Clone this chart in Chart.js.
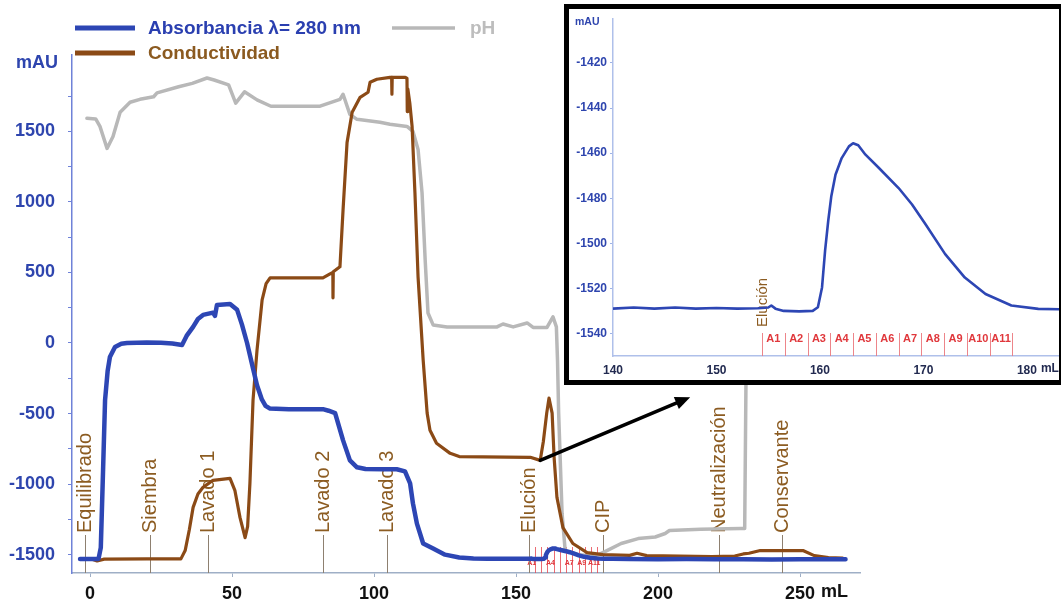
<!DOCTYPE html>
<html>
<head>
<meta charset="utf-8">
<script src="https://cdn.jsdelivr.net/npm/chart.js@4.4.1/dist/chart.umd.min.js"></script>
<style>
  html, body { margin: 0; padding: 0; background: #fff; }
  #wrap { position: relative; width: 1061px; height: 606px; overflow: hidden; background: #fff; }
  #main { position: absolute; left: 0; top: 0; }
  #insetBox { position: absolute; left: 564px; top: 4px; width: 500px; height: 381px;
              border: 5px solid #000; box-sizing: border-box; background: #fff; }
  #inset { position: absolute; left: 0; top: 0; }
</style>
</head>
<body>
<div id="wrap">
  <canvas id="main" width="1061" height="606"></canvas>
  <div id="insetBox"><canvas id="inset" width="490" height="371"></canvas></div>
</div>
<script>
// ---- Absorbance at 280 nm (mAU) over the whole run, before the elution window ----
const absVolume = [
  -3.5, 3, 3.8, 4.6, 5.3, 6.2, 7, 8.8, 11, 13,
  20, 25, 29, 32.4, 34, 36.3, 38, 39.8, 43.3, 44,
  44.7, 49.3, 51.8, 53.5, 55.3, 57.4, 58.8, 60.5, 61.8, 63.4,
  70, 82, 84, 86.3, 89.1, 91.5, 94, 97, 103.2, 108,
  110.9, 112.7, 113.7, 115.1, 117.3, 120.8, 125, 130, 135
];
const absorbance = [
  -1530, -1530, -1450, -900, -405, -200, -100, -28, -5, 0,
  3, 2, -3, -14, 50, 114, 170, 199, 215, 192,
  270, 277, 235, 130, 0, -180, -300, -400, -445, -465,
  -470, -469, -480, -497, -690, -832, -881, -893, -895, -895,
  -910, -995, -1137, -1280, -1421, -1457, -1500, -1520, -1528
];

// ---- Absorbance in the elution window (also shown enlarged) ----
const elutionVolume = [
  140, 142, 144, 146, 148, 150, 152, 154, 155, 155.3,
  155.7, 156.5, 158, 159.3, 159.8, 160.2, 160.5, 160.8, 161.1, 161.5,
  162.1, 162.8, 163.2, 163.7, 164.4, 165.7, 167.6, 168.9, 170.2, 172.1,
  174, 176, 178.5, 181.1, 184
];
const elutionAbs = [
  -1529, -1528.5, -1529, -1528.5, -1529, -1528.7, -1529, -1528.8, -1528.5, -1527.6,
  -1529, -1530, -1530.2, -1530, -1528.4, -1519.6, -1503, -1490, -1479, -1469.6,
  -1462.2, -1457, -1455.6, -1456.5, -1460.7, -1466.6, -1475.5, -1482.8, -1491.6, -1504.8,
  -1515.2, -1522.5, -1527.6, -1529.1, -1529.3
];

// ---- Absorbance after the elution window ----
const tailVolume = [190, 200, 210, 220, 230, 240, 250, 260, 266];
const tailAbs = [-1531, -1532, -1531, -1533, -1532, -1534, -1533, -1532, -1532];

// ---- Conductivity trace ----
const condVolume = [
  0.5, 2.5, 5, 20, 32, 33.5, 35, 36.3, 38, 39.8,
  43.3, 49.3, 51, 52.8, 54.6, 55.5, 56.3, 57.4, 58.8, 60.6,
  62, 63.4, 82, 84.5, 85.5, 85.55, 85.65, 88, 89.1, 90.5,
  92.3, 95.1, 97.9, 98.6, 101, 105.6, 106.2, 106.3, 106.4, 111,
  111.6, 111.7, 111.9, 112.6, 113.4, 114.4, 115.5, 117.3, 118.7, 119.7,
  122, 126.8, 130, 155, 158.5, 159.6, 160.8, 161.6, 162.7, 163.4,
  164.4, 166.5, 170, 175, 180.6, 190, 192.6, 196, 219, 227,
  230, 232, 236, 251, 255, 260, 265
];
const conductivity = [
  -1530, -1545, -1532, -1530, -1530, -1471, -1320, -1165, -1070, -1023,
  -973, -959, -1044, -1236, -1379, -1300, -995, -405, -50, 305,
  420, 462, 462, 490, 500, 320, 505, 540, 945, 1420,
  1635, 1741, 1777, 1848, 1869, 1883, 1883, 1763, 1883, 1883,
  1875, 1640, 1800, 1700, 1535, 1066, 469, -121, -497, -618,
  -711, -782, -805, -810, -832, -700, -497, -391, -497, -810,
  -1094, -1308, -1421, -1485, -1500, -1505, -1490, -1507, -1514, -1510,
  -1495, -1490, -1471, -1471, -1507, -1521, -1525
];

// ---- pH trace ----
const phVolume = [
  -1.1, 2, 3.5, 6, 8.1, 10.6, 14.1, 17.6, 22.4, 23.6,
  31.2, 36, 41.2, 43.7, 48.8, 51.3, 54.4, 58.8, 63.7, 81,
  88, 89.1, 91.5, 94, 102.1, 105.6, 111.6, 113.7, 115.5, 116.9,
  118, 119, 120.8, 125.7, 143.3, 145.4, 149, 153.9, 156, 160.9,
  163, 164.2, 164.6, 165, 166.2, 167.3, 172, 178, 182, 187,
  193, 199, 202.5, 204, 215, 229, 230.5, 230.9, 231.3, 232,
  235, 265
];
const phTrace = [
  1592, 1588, 1535, 1379, 1464, 1635, 1706, 1727, 1745, 1773,
  1816, 1840, 1878, 1864, 1829, 1700, 1780, 1723, 1678, 1678,
  1727, 1763, 1620, 1585, 1564, 1550, 1535, 1500, 1372, 1066,
  590, 213, 128, 114, 114, 135, 114, 142, 110, 110,
  185, 114, -121, -497, -1208, -1471, -1500, -1510, -1471, -1421,
  -1386, -1375, -1350, -1329, -1320, -1315, -1315, -400, 500, 1500,
  1600, 1600
];

// ---- Run events and collected fractions ----
const eventNames = ['Equilibrado', 'Siembra', 'Lavado 1', 'Lavado 2', 'Lavado 3',
                    'Elución', 'CIP', 'Neutralización', 'Conservante'];
const eventVolumes = [-1.8, 21, 41.5, 82, 104.6, 154.4, 180.6, 221.5, 243.7];
const insetEventNames = ['Elución'];
const fractionNames = ['A1', 'A2', 'A3', 'A4', 'A5', 'A6', 'A7', 'A8', 'A9', 'A10', 'A11'];
const fractionBounds = [154.4, 156.6, 158.8, 161.0, 163.2, 165.4, 167.6, 169.8, 172.0, 174.2, 176.4, 178.6];
const fractionsLabelledMain = ['A1', 'A4', 'A7', 'A9', 'A11'];

// ---- Axis ticks ----
const mainXTicks = [0, 50, 100, 150, 200, 250];
const mainYTicks = [-1500, -1250, -1000, -750, -500, -250, 0, 250, 500, 750, 1000, 1250, 1500, 1750];
const insetXTicks = [140, 150, 160, 170, 180];
const insetYTicks = [-1540, -1520, -1500, -1480, -1460, -1440, -1420];

// ---- Zoom arrow (from the elution region towards the enlarged view) ----
const arrowFrom = { x: 158.5, y: -832 };
const arrowTo = { x: 211.3, y: -384 };

// ---- Styling ----
const FONT = "'Liberation Sans', Arial, Helvetica, sans-serif";
const BLUE = '#2D46B4';
const BROWN = '#8B4A16';
const GREY = '#B8B8B8';
const LABEL_BROWN = '#8C5C22';
const AXIS_BLUE = '#2E45AE';
const FRACTION_RED = '#E0383C';

function toPoints(xs, ys) { return xs.map((x, i) => ({ x: x, y: ys[i] })); }

const absFull = toPoints(absVolume, absorbance)
  .concat(toPoints(elutionVolume, elutionAbs))
  .concat(toPoints(tailVolume, tailAbs));

// Decorations of the overview chart: legend, run events, fractions, arrow, units
const overviewDecor = {
  id: 'overviewDecor',
  beforeDatasetsDraw(chart) {
    const ctx = chart.ctx, xs = chart.scales.x, ys = chart.scales.y;
    const axisY = ys.bottom;
    ctx.save();
    // fraction boundaries
    ctx.strokeStyle = 'rgba(230,70,80,0.8)';
    ctx.lineWidth = 1;
    fractionBounds.forEach(v => {
      const px = Math.round(xs.getPixelForValue(v)) + 0.5;
      ctx.beginPath(); ctx.moveTo(px, axisY); ctx.lineTo(px, axisY - 26); ctx.stroke();
    });
    ctx.fillStyle = FRACTION_RED;
    ctx.font = 'bold 7px ' + FONT;
    ctx.textAlign = 'center'; ctx.textBaseline = 'middle';
    fractionNames.forEach((name, i) => {
      if (!fractionsLabelledMain.includes(name)) return;
      const c = xs.getPixelForValue((fractionBounds[i] + fractionBounds[i + 1]) / 2);
      ctx.fillText(name, c, axisY - 10);
    });
    // run events: vertical marker plus rotated label
    ctx.font = '20px ' + FONT;
    eventNames.forEach((name, i) => {
      const px = Math.round(xs.getPixelForValue(eventVolumes[i])) + 0.5;
      ctx.strokeStyle = '#8E8070';
      ctx.lineWidth = 1;
      ctx.beginPath(); ctx.moveTo(px, axisY); ctx.lineTo(px, axisY - 38); ctx.stroke();
      ctx.save();
      ctx.translate(px, axisY - 40);
      ctx.rotate(-Math.PI / 2);
      ctx.fillStyle = LABEL_BROWN;
      ctx.textAlign = 'left'; ctx.textBaseline = 'middle';
      ctx.fillText(name, 0, 0);
      ctx.restore();
    });
    ctx.restore();
  },
  afterDatasetsDraw(chart) {
    const ctx = chart.ctx, xs = chart.scales.x, ys = chart.scales.y;
    const x1 = xs.getPixelForValue(arrowFrom.x), y1 = ys.getPixelForValue(arrowFrom.y);
    const x2 = xs.getPixelForValue(arrowTo.x), y2 = ys.getPixelForValue(arrowTo.y);
    const ang = Math.atan2(y2 - y1, x2 - x1);
    const head = 15, half = 6.5;
    ctx.save();
    ctx.strokeStyle = '#000'; ctx.fillStyle = '#000';
    ctx.lineWidth = 3.5; ctx.lineCap = 'round';
    ctx.beginPath();
    ctx.moveTo(x1, y1);
    ctx.lineTo(x2 - Math.cos(ang) * head * 0.8, y2 - Math.sin(ang) * head * 0.8);
    ctx.stroke();
    ctx.beginPath();
    ctx.moveTo(x2, y2);
    ctx.lineTo(x2 - Math.cos(ang) * head - Math.sin(ang) * half, y2 - Math.sin(ang) * head + Math.cos(ang) * half);
    ctx.lineTo(x2 - Math.cos(ang) * head + Math.sin(ang) * half, y2 - Math.sin(ang) * head - Math.cos(ang) * half);
    ctx.closePath(); ctx.fill();
    ctx.restore();
  },
  afterDraw(chart) {
    const ctx = chart.ctx, xs = chart.scales.x;
    ctx.save();
    // legend
    const rows = [
      { color: BLUE, width: 5, x0: 75, x1: 135, y: 28, tx: 148, text: 'Absorbancia λ= 280 nm', tc: '#2A3FB0' },
      { color: GREY, width: 3.5, x0: 392, x1: 455, y: 28, tx: 470, text: 'pH', tc: '#BDBDBD' },
      { color: BROWN, width: 5, x0: 75, x1: 135, y: 53, tx: 148, text: 'Conductividad', tc: '#8B5A20' }
    ];
    rows.forEach(r => {
      ctx.strokeStyle = r.color; ctx.lineWidth = r.width; ctx.lineCap = 'butt';
      ctx.beginPath(); ctx.moveTo(r.x0, r.y); ctx.lineTo(r.x1, r.y); ctx.stroke();
      ctx.fillStyle = r.tc; ctx.font = 'bold 19px ' + FONT;
      ctx.textAlign = 'left'; ctx.textBaseline = 'middle';
      ctx.fillText(r.text, r.tx, r.y + 1);
    });
    // y unit
    ctx.fillStyle = AXIS_BLUE; ctx.font = 'bold 18px ' + FONT;
    ctx.textAlign = 'right'; ctx.textBaseline = 'middle';
    ctx.fillText('mAU', 58, 63);
    // x unit after the last tick label
    const last = xs.ticks[xs.ticks.length - 1];
    const px = xs.getPixelForValue(last.value);
    ctx.font = 'bold 18px ' + FONT;
    const w = ctx.measureText(String(last.label)).width;
    ctx.fillStyle = '#111'; ctx.textAlign = 'left'; ctx.textBaseline = 'top';
    ctx.fillText('mL', px + w / 2 + 6, xs.top + 4 + 6);
    ctx.restore();
  }
};

new Chart(document.getElementById('main'), {
  type: 'line',
  data: {
    datasets: [
      { label: 'Absorbancia λ= 280 nm', data: absFull, borderColor: BLUE, borderWidth: 4.5, order: 0 },
      { label: 'pH', data: toPoints(phVolume, phTrace), borderColor: GREY, borderWidth: 3.5, order: 2 },
      { label: 'Conductividad', data: toPoints(condVolume, conductivity), borderColor: BROWN, borderWidth: 3.2, order: 1 }
    ]
  },
  options: {
    responsive: false,
    animation: false,
    events: [],
    layout: { padding: { left: 0, right: 201, top: 55, bottom: 0 } },
    datasets: { line: { pointRadius: 0, tension: 0, fill: false, borderJoinStyle: 'round', borderCapStyle: 'round' } },
    plugins: { legend: { display: false }, tooltip: { enabled: false } },
    scales: {
      x: {
        type: 'linear', min: -6.34, max: 271.1,
        afterBuildTicks: s => { s.ticks = mainXTicks.map(v => ({ value: v })); },
        afterFit: s => { s.height = 33; },
        grid: { display: true, drawOnChartArea: false, drawTicks: true, tickLength: 4, tickColor: '#9FAFC6' },
        border: { display: true, color: '#9FAFC6', width: 1.5 },
        ticks: { color: '#111', font: { family: FONT, size: 18, weight: 'bold' }, padding: 6, maxRotation: 0,
                 callback: v => String(v) }
      },
      y: {
        type: 'linear', min: -1630, max: 2041,
        afterBuildTicks: s => { s.ticks = mainYTicks.map(v => ({ value: v })); },
        afterFit: s => { s.width = 72; },
        grid: { display: true, drawOnChartArea: false, drawTicks: true, tickLength: 4, tickColor: '#6F82D8' },
        border: { display: true, color: '#6F82D8', width: 1.5 },
        ticks: {
          color: AXIS_BLUE, font: { family: FONT, size: 18, weight: 'bold' }, padding: 13,
          callback: v => (v % 500 === 0 && v <= 1500) ? String(v) : ''
        }
      }
    }
  },
  plugins: [overviewDecor]
});

// Decorations of the enlarged elution view
const insetDecor = {
  id: 'insetDecor',
  beforeDatasetsDraw(chart) {
    const ctx = chart.ctx, xs = chart.scales.x, ys = chart.scales.y;
    const axisY = ys.bottom;
    ctx.save();
    ctx.strokeStyle = 'rgba(235,120,125,0.9)'; ctx.lineWidth = 1;
    fractionBounds.forEach(v => {
      const px = Math.round(xs.getPixelForValue(v)) + 0.5;
      ctx.beginPath(); ctx.moveTo(px, axisY); ctx.lineTo(px, axisY - 23); ctx.stroke();
    });
    ctx.fillStyle = FRACTION_RED; ctx.font = 'bold 11px ' + FONT;
    ctx.textAlign = 'center'; ctx.textBaseline = 'middle';
    fractionNames.forEach((name, i) => {
      const c = xs.getPixelForValue((fractionBounds[i] + fractionBounds[i + 1]) / 2);
      ctx.fillText(name, c, axisY - 17);
    });
    ctx.font = '15px ' + FONT; ctx.fillStyle = LABEL_BROWN;
    eventNames.forEach((name, i) => {
      if (!insetEventNames.includes(name)) return;
      const px = xs.getPixelForValue(eventVolumes[i]);
      ctx.save();
      ctx.translate(px + 1, axisY - 29);
      ctx.rotate(-Math.PI / 2);
      ctx.textAlign = 'left'; ctx.textBaseline = 'middle';
      ctx.fillText(name, 0, 0);
      ctx.restore();
    });
    ctx.restore();
  },
  afterDraw(chart) {
    const ctx = chart.ctx, xs = chart.scales.x;
    ctx.save();
    ctx.fillStyle = AXIS_BLUE; ctx.font = 'bold 10.5px ' + FONT;
    ctx.textAlign = 'left'; ctx.textBaseline = 'middle';
    ctx.fillText('mAU', 6, 13);
    const last = xs.ticks[xs.ticks.length - 1];
    const px = xs.getPixelForValue(last.value);
    ctx.font = 'bold 12px ' + FONT;
    const w = ctx.measureText(String(last.label)).width;
    ctx.fillStyle = '#222A50'; ctx.textBaseline = 'top';
    ctx.fillText('mL', px + w / 2 + 4, xs.top + 3 + 4);
    ctx.restore();
  }
};

new Chart(document.getElementById('inset'), {
  type: 'line',
  data: {
    datasets: [
      { label: 'Absorbancia λ= 280 nm', data: toPoints(elutionVolume, elutionAbs), borderColor: BLUE, borderWidth: 2.6 }
    ]
  },
  options: {
    responsive: false,
    animation: false,
    events: [],
    layout: { padding: { left: 0, right: 0, top: 8, bottom: 0 } },
    datasets: { line: { pointRadius: 0, tension: 0, fill: false, borderJoinStyle: 'round' } },
    plugins: { legend: { display: false }, tooltip: { enabled: false } },
    scales: {
      x: {
        type: 'linear', min: 140, max: 183.1,
        afterBuildTicks: s => { s.ticks = insetXTicks.map(v => ({ value: v })); },
        afterFit: s => { s.height = 24; },
        grid: { display: true, drawOnChartArea: false, drawTicks: true, tickLength: 3, tickColor: 'rgba(0,0,0,0)' },
        border: { display: true, color: '#AFC0EA', width: 1.5 },
        ticks: { color: '#222A50', font: { family: FONT, size: 12, weight: 'bold' }, padding: 4, maxRotation: 0,
                 callback: v => String(v) }
      },
      y: {
        type: 'linear', min: -1550, max: -1400.6,
        afterBuildTicks: s => { s.ticks = insetYTicks.map(v => ({ value: v })); },
        afterFit: s => { s.width = 44; },
        grid: { display: true, drawOnChartArea: false, drawTicks: true, tickLength: 3, tickColor: '#9FB2E6' },
        border: { display: true, color: '#AFC0EA', width: 1.5 },
        ticks: { color: AXIS_BLUE, font: { family: FONT, size: 12, weight: 'bold' }, padding: 3,
                 callback: v => String(v) }
      }
    }
  },
  plugins: [insetDecor]
});
</script>
</body>
</html>
